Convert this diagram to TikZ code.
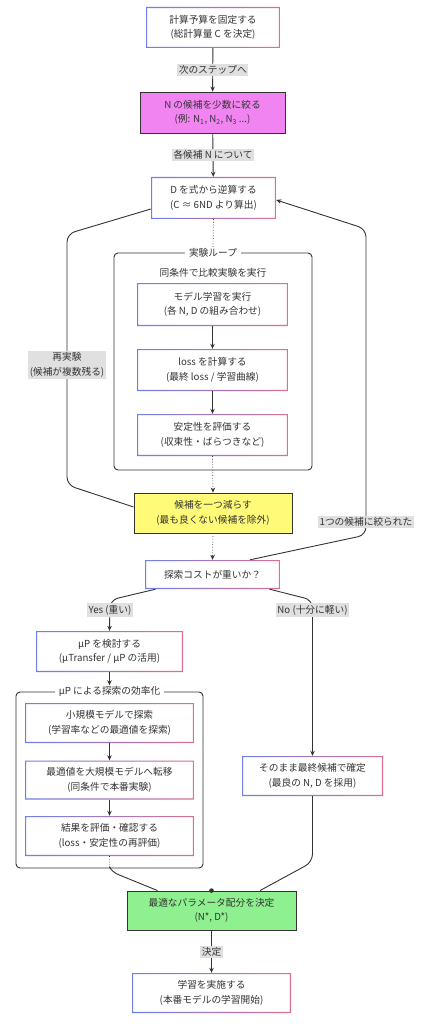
\documentclass[tikz,border=0pt]{standalone}
\usepackage{fontspec}
\setmainfont{Noto Sans CJK JP}
\usetikzlibrary{arrows.meta}
\definecolor{gbL}{HTML}{6E80E6}
\definecolor{gbR}{HTML}{DB7093}
\definecolor{ink}{HTML}{333333}
\definecolor{lblbg}{HTML}{E0E0E0}
\definecolor{magfill}{HTML}{F184F1}
\definecolor{yelfill}{HTML}{FFFA78}
\definecolor{grnfill}{HTML}{8FF08F}
\newcommand{\fs}{\fontsize{9.7}{14.5}\selectfont}
\tikzset{
  base/.style={rectangle, align=center, inner sep=0pt, font=\fs, text=ink},
  gbox/.style={base, fill=white, path picture={
      \shade[even odd rule, left color=gbL, right color=gbR]
        (path picture bounding box.south west) rectangle (path picture bounding box.north east)
        ([shift={(1.2pt,1.2pt)}]path picture bounding box.south west) rectangle ([shift={(-1.2pt,-1.2pt)}]path picture bounding box.north east);
  }},
  fbox/.style={base, draw=ink, line width=0.9pt, fill=#1},
  lbl/.style={fill=lblbg, inner sep=1.6pt, font=\fs, text=ink, align=center},
  cluster/.style={draw=ink, line width=0.9pt, rounded corners=4pt, inner sep=0pt},
  ctitle/.style={fill=white, inner xsep=4pt, inner ysep=1pt, font=\fs, text=ink},
  edge/.style={draw=ink, line width=0.9pt},
  arr/.style={edge, -{Stealth[length=5pt,width=4.5pt]}},
  dots/.style={draw=ink, line width=0.7pt, dotted},
}
\begin{document}
\begin{tikzpicture}[x=1pt, y=-1pt]
\useasboundingbox (0,0) rectangle (422,1024);
\fill[white] (0,0) rectangle (422,1024);

% nodes
\node[gbox, minimum width=134pt, minimum height=41pt] (n1) at (213,27.5) {計算予算を固定する\\(総計算量 C を決定)};
\node[fbox=magfill, minimum width=145pt, minimum height=41pt] (n2) at (212.5,112.5) {N の候補を少数に絞る\\(例: N\textsubscript{1}, N\textsubscript{2}, N\textsubscript{3} ...)};
\node[gbox, minimum width=125pt, minimum height=42pt] (n3) at (213.5,198) {D を式から逆算する\\(C ≈ 6ND より算出)};

\node[cluster, minimum width=198pt, minimum height=217pt] (L1) at (213,361.5) {};
\node[ctitle] (L1t) at (L1.north) {実験ループ};
\node[font=\fs, text=ink] (L1s) at (213,273) {同条件で比較実験を実行};

\node[gbox, minimum width=151pt, minimum height=43pt] (n4) at (212.5,304.5) {モデル学習を実行\\(各 N, D の組み合わせ)};
\node[gbox, minimum width=151pt, minimum height=42pt] (n5) at (212.5,370) {loss を計算する\\(最終 loss / 学習曲線)};
\node[gbox, minimum width=151pt, minimum height=42pt] (n6) at (212.5,435) {安定性を評価する\\(収束性・ばらつきなど)};

\node[fbox=yelfill, minimum width=158pt, minimum height=40pt] (n7) at (213,513) {候補を一つ減らす\\(最も良くない候補を除外)};
\node[gbox, minimum width=135pt, minimum height=29pt] (n8) at (212.5,574.5) {探索コストが重いか？};

\node[gbox, minimum width=147pt, minimum height=41pt] (n9) at (109.5,651.5) {μP を検討する\\(μTransfer / μP の活用)};

\node[cluster, minimum width=187pt, minimum height=176pt] (L2) at (109.5,780) {};
\node[ctitle] (L2t) at (L2.north) {μP による探索の効率化};

\node[gbox, minimum width=169pt, minimum height=40pt] (n10) at (109.5,723) {小規模モデルで探索\\(学習率などの最適値を探索)};
\node[gbox, minimum width=169pt, minimum height=39pt] (n11) at (109.5,780) {最適値を大規模モデルへ転移\\(同条件で本番実験)};
\node[gbox, minimum width=169pt, minimum height=40pt] (n12) at (109.5,836) {結果を評価・確認する\\(loss・安定性の再評価)};

\node[gbox, minimum width=141pt, minimum height=40pt] (n13) at (312.5,776) {そのまま最終候補で確定\\(最良の N, D を採用)};

\node[fbox=grnfill, minimum width=169pt, minimum height=39pt] (n14) at (211.5,910.5) {最適なパラメータ配分を決定\\(N*, D*)};
\node[gbox, minimum width=159pt, minimum height=40pt] (n15) at (211.5,993) {学習を実施する\\(本番モデルの学習開始)};

% connectors
\draw[arr] (n1) -- node[lbl] (e1) {次のステップへ} (n2);
\draw[arr] (n2) -- node[lbl, pos=0.5] (e2) {各候補 N について} (n3);
\draw[dots] (n3.south) -- (L1t.north);
\draw[arr] (n4) -- (n5);
\draw[arr] (n5) -- (n6);
\draw[dots, -{Stealth[length=5pt,width=4.5pt]}] (n6.south) -- (n7.north);
\draw[dots, -{Stealth[length=5pt,width=4.5pt]}] (n7.south) -- (n8.north);

% left loop
\coordinate (la) at (67,485);
\coordinate (lb) at (67,234);
\draw[edge, rounded corners=8pt] ([yshift=6pt]n7.west) -- (la) -- (lb) -- ([yshift=-11pt]n3.west);
\node[lbl] (e3) at (67,365) {再実験\\(候補が複数残る)};

% right loop
\coordinate (ra) at (366,535);
\coordinate (rb) at (366,229);
\draw[arr, rounded corners=8pt] ([xshift=37.5pt]n8.north) -- (ra) -- (rb) -- ([yshift=-2pt]n3.east);
\node[lbl] (e4) at (366,522) {1つの候補に絞られた};

% yes / no
\coordinate (ya) at (110,600);
\coordinate (na) at (312.5,600);
\draw[arr, rounded corners=8pt] ([xshift=-57pt]n8.south) -- (ya) -- (n9.north);
\node[lbl] (e5) at (110,610) {Yes (重い)};
\draw[arr, rounded corners=8pt] ([xshift=57pt]n8.south) -- (na) -- (n13.north);
\node[lbl] (e6) at (312.5,610) {No (十分に軽い)};

\draw[arr] (n9.south) -- (L2t.north);
\draw[arr] (n10) -- (n11);
\draw[arr] (n11) -- (n12);

% to green
\coordinate (ga) at (110,868);
\coordinate (gb) at (112,872);
\coordinate (gc) at (312.5,862);
\draw[dots] (n12.south) -- (ga);
\draw[edge, rounded corners=6pt] (ga) -- (gb) -- ([xshift=-54pt]n14.north);
\draw[edge, rounded corners=8pt] (n13.south) -- (gc) -- ([xshift=48.5pt]n14.north);
\fill[ink] (n14.north) circle (2.3pt);

\draw[arr] (n14) -- node[lbl] (e7) {決定} (n15);
\end{tikzpicture}
\end{document}
